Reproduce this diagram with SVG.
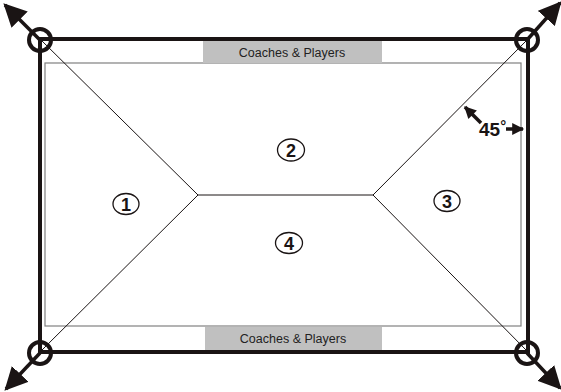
<svg xmlns="http://www.w3.org/2000/svg" width="561" height="392" viewBox="0 0 561 392">
<style>
.thick{fill:none;stroke:#1a1414;stroke-width:4}
.inner{fill:none;stroke:#808080;stroke-width:1.2}
.thin{fill:none;stroke:#1a1414;stroke-width:1}
.ring{fill:none;stroke:#1a1414;stroke-width:4}
.shaft{stroke:#1a1414;stroke-width:3.5;fill:none}
.box{fill:#c0c0c0}
.lbl{font-family:"Liberation Sans",Arial,sans-serif;font-size:12.5px;fill:#222;text-anchor:middle}
.num{font-family:"Liberation Sans",Arial,sans-serif;font-size:18px;font-weight:bold;fill:#1a1414;text-anchor:middle}
.oval{fill:none;stroke:#1a1414;stroke-width:1.3}
</style>
<defs>
<marker id="ah" viewBox="0 0 10 10" refX="9" refY="5" markerWidth="23" markerHeight="23" orient="auto" markerUnits="userSpaceOnUse">
<path d="M0,0 L10,5 L0,10 Z" fill="#1a1414"/>
</marker>
<marker id="ahs" viewBox="0 0 10 10" refX="9" refY="5" markerWidth="14" markerHeight="12" orient="auto" markerUnits="userSpaceOnUse">
<path d="M0,0 L10,5 L0,10 Z" fill="#1a1414"/>
</marker>
</defs>
<g id="field">
<rect class="inner" x="45" y="63" width="476" height="263"/>
<rect class="thick" x="40" y="39" width="488" height="313"/>
</g>
<g id="coaches-top">
<rect class="box" x="203" y="41" width="179" height="22"/>
<text class="lbl" x="292" y="56.5">Coaches &amp; Players</text>
</g>
<g id="coaches-bottom">
<rect class="box" x="205" y="327" width="177" height="23"/>
<text class="lbl" x="293" y="343">Coaches &amp; Players</text>
</g>
<g id="connectors">
<polyline class="thin" points="40,39 198,195 373,195 528,39"/>
<line class="thin" x1="40" y1="352" x2="198" y2="195"/>
<line class="thin" x1="528" y1="352" x2="373" y2="195"/>
</g>
<g id="corner-tl">
<circle class="ring" cx="40" cy="40" r="11"/>
<line class="shaft" x1="40" y1="40" x2="5" y2="5" marker-end="url(#ah)"/>
</g>
<g id="corner-tr">
<circle class="ring" cx="527" cy="40" r="11"/>
<line class="shaft" x1="527" y1="40" x2="560" y2="3" marker-end="url(#ah)"/>
</g>
<g id="corner-bl">
<circle class="ring" cx="40" cy="353" r="11"/>
<line class="shaft" x1="40" y1="353" x2="6" y2="389" marker-end="url(#ah)"/>
</g>
<g id="corner-br">
<circle class="ring" cx="527" cy="353" r="11"/>
<line class="shaft" x1="527" y1="353" x2="560" y2="388" marker-end="url(#ah)"/>
</g>
<g id="zone1">
<ellipse class="oval" cx="126" cy="204" rx="13" ry="10.5"/>
<text class="num" x="126" y="210.5">1</text>
</g>
<g id="zone2">
<ellipse class="oval" cx="291" cy="150" rx="13.5" ry="11"/>
<text class="num" x="291" y="156.5">2</text>
</g>
<g id="zone3">
<ellipse class="oval" cx="447" cy="201" rx="13" ry="10.5"/>
<text class="num" x="447" y="207.5">3</text>
</g>
<g id="zone4">
<ellipse class="oval" cx="289" cy="243" rx="13.5" ry="10.5"/>
<text class="num" x="289" y="249.5">4</text>
</g>
<g id="angle">
<line class="shaft" x1="481" y1="123" x2="465" y2="107" stroke-width="2" marker-end="url(#ahs)"/>
<line class="shaft" x1="506" y1="129" x2="523" y2="129" stroke-width="2" marker-end="url(#ahs)"/>
<text x="479" y="136" font-family="'Liberation Sans',Arial,sans-serif" font-size="19" font-weight="bold" fill="#1a1414">45<tspan dy="-5" font-size="15">°</tspan></text>
</g>
</svg>
